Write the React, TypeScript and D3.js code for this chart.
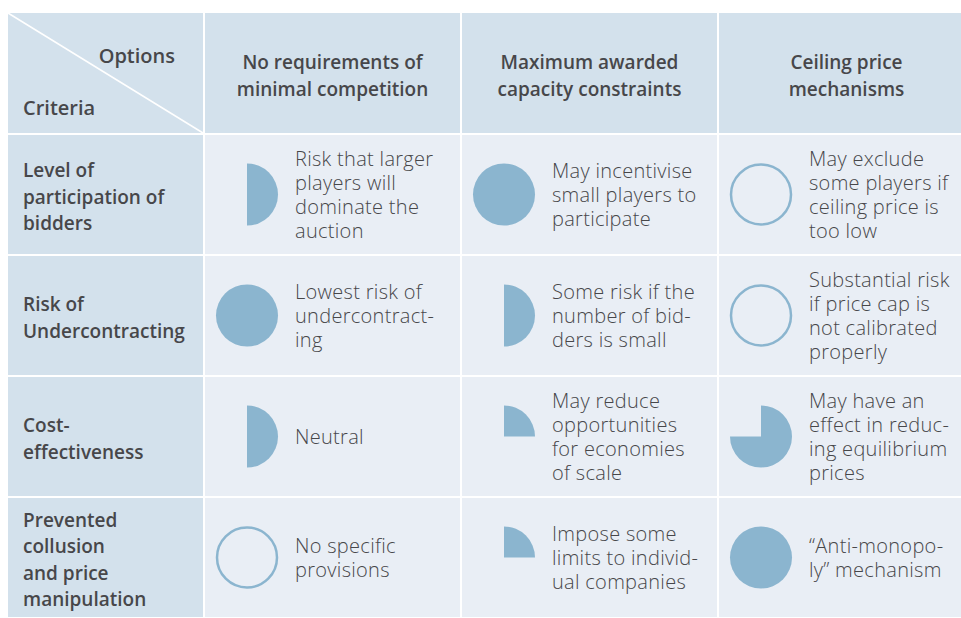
import React from 'react';
import * as d3 from 'd3';

// options across the top, criteria down the side
const options = [
  ['No requirements of', 'minimal competition'],
  ['Maximum awarded', 'capacity constraints'],
  ['Ceiling price', 'mechanisms'],
];

const criteria = [
  ['Level of', 'participation of', 'bidders'],
  ['Risk of', 'Undercontracting'],
  ['Cost-', 'effectiveness'],
  ['Prevented', 'collusion', 'and price', 'manipulation'],
];

// share of the harvey ball filled, one row per criterion
const scores = [
  [0.5, 1, 0],
  [1, 0.5, 0],
  [0.5, 0.25, 0.75],
  [0, 0.25, 1],
];

const notes = [
  [
    ['Risk that larger', 'players will', 'dominate the', 'auction'],
    ['May incentivise', 'small players to', 'participate'],
    ['May exclude', 'some players if', 'ceiling price is', 'too low'],
  ],
  [
    ['Lowest risk of', 'undercontract-', 'ing'],
    ['Some risk if the', 'number of bid-', 'ders is small'],
    ['Substantial risk', 'if price cap is', 'not calibrated', 'properly'],
  ],
  [
    ['Neutral'],
    ['May reduce', 'opportunities', 'for economies', 'of scale'],
    ['May have an', 'effect in reduc-', 'ing equilibrium', 'prices'],
  ],
  [
    ['No specific', 'provisions'],
    ['Impose some', 'limits to individ-', 'ual companies'],
    ['\u201CAnti-monopo-', 'ly\u201D mechanism'],
  ],
];

const HEAD_BG = '#d3e1ec';
const CELL_BG = '#e9eef5';
const BALL = '#8bb5cf';
const INK = '#47474a';
const FONT = "'Open Sans', 'DejaVu Sans', sans-serif";

export default function App() {
  const width = 961;
  const height = 618;
  const left = 8;
  const top = 13;
  const firstColRight = 203;
  const headBottom = 133;
  const gap = 2;

  const x = d3.scaleBand<number>()
    .domain(d3.range(options.length))
    .range([firstColRight, firstColRight + 257 * options.length]);
  const y = d3.scaleBand<number>()
    .domain(d3.range(criteria.length))
    .range([headBottom, headBottom + 121 * criteria.length]);

  const ball = d3.arc<number>()
    .innerRadius(0)
    .outerRadius(31)
    .startAngle(0)
    .endAngle(f => f * 2 * Math.PI);

  const lines = (arr: string[], cx: number, cy: number, lh: number, shift: number, anchor: string, weight: number, size: number, spacing = 0) =>
    arr.map((t, k) => (
      <text key={k} x={cx} y={cy + (k - (arr.length - 1) / 2) * lh + shift}
        textAnchor={anchor} fontWeight={weight} fontSize={size} fill={INK} fontFamily={FONT}
        letterSpacing={spacing}>{t}</text>
    ));

  return (
    <svg width={width} height={height} style={{ position: 'absolute', left: 0, top: 0, background: '#fff' }}>
      {/* header row */}
      <rect x={left} y={top} width={firstColRight - left} height={headBottom - top} fill={HEAD_BG} />
      <line x1={left} y1={top} x2={firstColRight} y2={headBottom} stroke="#fff" strokeWidth={1.5} />
      <text x={175} y={63} textAnchor="end" fontWeight={600} fontSize={20} fill={INK} fontFamily={FONT}>Options</text>
      <text x={23} y={115} fontWeight={600} fontSize={20} fill={INK} fontFamily={FONT}>Criteria</text>
      {options.map((o, j) => (
        <g key={j}>
          <rect x={x(j)! + gap} y={top} width={x.bandwidth() - gap} height={headBottom - top} fill={HEAD_BG} />
          {lines(o, x(j)! + gap + (x.bandwidth() - gap) / 2, (top + headBottom) / 2, 27, 9, 'middle', 600, 19)}
        </g>
      ))}

      {criteria.map((c, i) => {
        const y0 = y(i)! + gap;
        const h = y.bandwidth() - gap;
        const cy = y0 + h / 2;
        return (
          <g key={i}>
            <rect x={left} y={y0} width={firstColRight - left} height={h} fill={HEAD_BG} />
            {lines(c, 23, cy, 26.5, 9, 'start', 600, 19)}
            {options.map((_, j) => {
              const x0 = x(j)! + gap;
              const s = scores[i][j];
              const bx = x0 + 42;
              return (
                <g key={j}>
                  <rect x={x0} y={y0} width={x.bandwidth() - gap} height={h} fill={CELL_BG} />
                  {s === 0
                    ? <circle cx={bx} cy={cy} r={30} fill="none" stroke={BALL} strokeWidth={2.5} />
                    : <path d={ball(s) || ''} transform={`translate(${bx},${cy})`} fill={BALL} />}
                  {lines(notes[i][j], x0 + 90, cy, 24, 7, 'start', 300, 20, 0.3)}
                </g>
              );
            })}
          </g>
        );
      })}
    </svg>
  );
}
